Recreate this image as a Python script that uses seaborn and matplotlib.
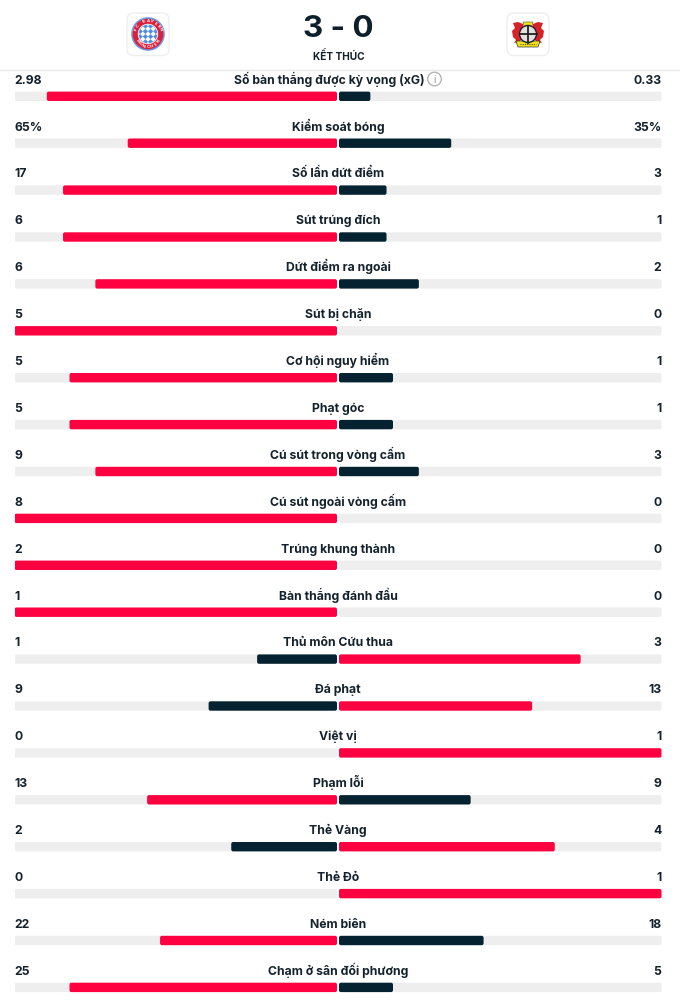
import numpy as np
import pandas as pd
import matplotlib
matplotlib.use('Agg')
import matplotlib.pyplot as plt
from matplotlib.patches import Circle, FancyBboxPatch, Polygon
import seaborn as sns

stat_names = ['Số bàn thắng được kỳ vọng (xG)', 'Kiểm soát bóng', 'Số lần dứt điểm', 'Sút trúng đích',
              'Dứt điểm ra ngoài', 'Sút bị chặn', 'Cơ hội nguy hiểm', 'Phạt góc', 'Cú sút trong vòng cấm',
              'Cú sút ngoài vòng cấm', 'Trúng khung thành', 'Bàn thắng đánh đầu', 'Thủ môn Cứu thua',
              'Đá phạt', 'Việt vị', 'Phạm lỗi', 'Thẻ Vàng', 'Thẻ Đỏ', 'Ném biên', 'Chạm ở sân đối phương']
home_labels = ['2.98', '65%', '17', '6', '6', '5', '5', '5', '9', '8', '2', '1', '1', '9', '0', '13', '2', '0', '22', '25']
away_labels = ['0.33', '35%', '3', '1', '2', '0', '1', '1', '3', '0', '0', '0', '3', '13', '1', '9', '4', '1', '18', '5']
# bar lengths in percent (the site rounds them)
home_pct = [90, 65, 85, 85, 75, 100, 83, 83, 75, 100, 100, 100, 25, 40, 0, 59, 33, 0, 55, 83]
away_pct = [10, 35, 15, 15, 25, 0, 17, 17, 25, 0, 0, 0, 75, 60, 100, 41, 67, 100, 45, 17]

RED = '#ff0040'
DARK = '#052230'
TRACK = '#eeeeee'
TEXT = '#14222d'
W, H = 680, 1002
ROW = 46.9
HALF = 323.5

plt.rcParams['font.family'] = ['Inter', 'Noto Sans', 'DejaVu Sans']

df = pd.DataFrame({'stat': stat_names, 'home': home_pct, 'away': away_pct})
df['home_share'] = -df['home'] / 100
df['away_share'] = df['away'] / 100
df['home_won'] = np.where(df['home'] >= df['away'], 'win', 'lose')
df['away_won'] = np.where(df['away'] > df['home'], 'win', 'lose')
df['left_track'] = -1.0
df['right_track'] = 1.0

fig = plt.figure(figsize=(W / 100, H / 100), dpi=100)
top = 96.3 - ROW / 2
ax = fig.add_axes([14.5 / W, 0, 2 * HALF / W, 1 - top / H])

pal = {'win': RED, 'lose': DARK}
sns.barplot(data=df, y='stat', x='left_track', color=TRACK, width=0.2, saturation=1, ax=ax)
sns.barplot(data=df, y='stat', x='right_track', color=TRACK, width=0.2, saturation=1, ax=ax)
sns.barplot(data=df, y='stat', x='home_share', hue='home_won', palette=pal, width=0.2, dodge=False,
            saturation=1, legend=False, ax=ax)
sns.barplot(data=df, y='stat', x='away_share', hue='away_won', palette=pal, width=0.2, dodge=False,
            saturation=1, legend=False, ax=ax)
ax.set_xlim(-1, 1)
ax.set_ylim((H - 96.3) / ROW, -0.5)
ax.axis('off')

# swap the square bars for rounded ones, 1px gap each side of the centre
gap = 1 / HALF
for bar in list(ax.patches):
    x0, w = bar.get_x(), bar.get_width()
    if w == 0 or np.isnan(w):
        bar.remove()
        continue
    lo, hi = min(x0, x0 + w), max(x0, x0 + w)
    if hi <= 0:
        hi -= gap
    else:
        lo += gap
    rounded = FancyBboxPatch((lo, bar.get_y()), hi - lo, bar.get_height(),
                             boxstyle='round,pad=0,rounding_size=0.006',
                             mutation_aspect=HALF / ROW, fc=bar.get_facecolor(), ec='none', zorder=bar.get_zorder())
    bar.remove()
    ax.add_patch(rounded)

for i, name in enumerate(stat_names):
    y = i - 12.6 / ROW
    xc = -9 / HALF if i == 0 else 0
    ax.text(xc, y, name, ha='center', va='baseline', fontsize=8.8, fontweight='bold', color=TEXT)
    ax.text(-1, y, home_labels[i], ha='left', va='baseline', fontsize=8.8, fontweight='bold', color=TEXT)
    ax.text(1, y, away_labels[i], ha='right', va='baseline', fontsize=8.8, fontweight='bold', color=TEXT)

# header drawn on a pixel-coordinate overlay
hd = fig.add_axes([0, 0, 1, 1], zorder=5)
hd.set_xlim(0, W)
hd.set_ylim(H, 0)
hd.axis('off')
hd.patch.set_alpha(0)
hd.plot([0, W], [69.5, 69.5], color='#e8e8e8', lw=1)
hd.text(338.5, 37, '3 - 0', ha='center', va='baseline', fontsize=22.5, fontweight='bold', color='#0d1f2b')
hd.text(338.5, 60, 'KẾT THÚC', ha='center', va='baseline', fontsize=7.3, fontweight='bold', color=TEXT)

# info icon next to xG label
hd.add_patch(Circle((434.5, 79), 6.8, fc='white', ec='#b5b5b5', lw=1))
hd.text(434.5, 79.5, 'i', ha='center', va='center', fontsize=7, color='#909090')

# crest tiles
for cx in (148, 528):
    hd.add_patch(FancyBboxPatch((cx - 21, 13), 42, 42.5, boxstyle='round,pad=0,rounding_size=7',
                                fc='white', ec='#efefef', lw=1))

# bayern crest
cx, cy = 148, 34
hd.add_patch(Circle((cx, cy), 16.8, fc='#6a9be6', ec='none'))
hd.add_patch(Circle((cx, cy), 15.3, fc='#dc1f3a', ec='none'))
hd.add_patch(Circle((cx, cy), 10.2, fc='white', ec='none'))
field = Circle((cx, cy), 9.4, fc='#4f8ee0', ec='none')
hd.add_patch(field)
for row in range(-4, 5):
    for col in range(-4, 5):
        if (col + row) % 2 == 0:
            dx = (col - row) * 2.6
            dy = (col + row) * 2.6
            lz = Polygon([(cx + dx, cy + dy - 2.6), (cx + dx + 2.6, cy + dy),
                          (cx + dx, cy + dy + 2.6), (cx + dx - 2.6, cy + dy)], fc='white', ec='none')
            hd.add_patch(lz)
            lz.set_clip_path(field)
top_ring = 'FC BAYERN'
bot_ring = 'MÜNCHEN'
for k, ch in enumerate(top_ring):
    ang = np.deg2rad((k - 4) * 17)
    hd.text(cx + 12.8 * np.sin(ang), cy - 12.8 * np.cos(ang), ch, ha='center', va='center', fontsize=3,
            fontweight='bold', color='white', rotation=-np.rad2deg(ang))
for k, ch in enumerate(bot_ring):
    ang = np.deg2rad((k - 3) * 19)
    hd.text(cx + 12.8 * np.sin(ang), cy + 12.8 * np.cos(ang), ch, ha='center', va='center', fontsize=3,
            fontweight='bold', color='white', rotation=np.rad2deg(ang))

# leverkusen crest
cx, cy = 528, 34
for s in (-1, 1):
    hd.add_patch(Polygon([(cx + s * 5, cy - 10), (cx + s * 10, cy - 12), (cx + s * 15, cy - 11), (cx + s * 13, cy - 6),
                          (cx + s * 16, cy - 3), (cx + s * 15, cy + 3), (cx + s * 12, cy + 6), (cx + s * 14, cy + 9),
                          (cx + s * 9, cy + 8), (cx + s * 5, cy + 4)], fc='#d8222a', ec='none'))
hd.add_patch(Polygon([(cx - 12, cy + 7), (cx + 12, cy + 7), (cx + 10, cy + 13), (cx - 10, cy + 13)],
                     fc='#f2e21c', ec='#333333', lw=0.5))
hd.plot([cx - 8, cx + 8], [cy + 10, cy + 10], color='#555533', lw=0.8, ls=(0, (1, 1)))
hd.add_patch(Polygon([(cx - 5, cy - 12), (cx + 5, cy - 12), (cx + 4, cy - 8), (cx - 4, cy - 8)], fc='#f2e21c', ec='#555533', lw=0.4))
hd.add_patch(Circle((cx, cy), 8.5, fc='#e2e2e2', ec='#222222', lw=1))
hd.plot([cx - 8.5, cx + 8.5], [cy, cy], color='#222222', lw=1.3)
hd.plot([cx, cx], [cy - 8.5, cy + 8.5], color='#222222', lw=1.3)

fig.savefig('out.png', dpi=100)
